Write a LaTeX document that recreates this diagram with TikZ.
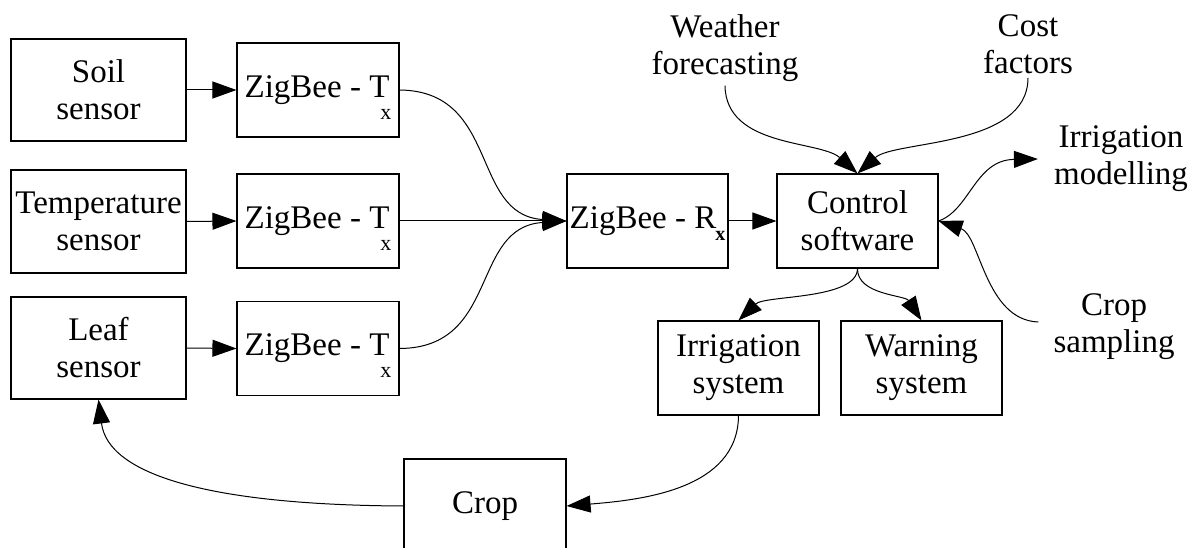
\documentclass[tikz,border=0pt]{standalone}
\usepackage{fontspec}
\setmainfont{Liberation Serif}
\usetikzlibrary{arrows.meta}
\newcommand\fs{\fontsize{33}{37}\selectfont}
\newcommand\txsub{\kern-9pt\smash{\raisebox{-22pt}{\fontsize{22}{22}\selectfont x}}}
\newcommand\rxsub{\kern-1pt\smash{\raisebox{-12pt}{\fontsize{20}{20}\selectfont\bfseries x}}}
\begin{document}
\begin{tikzpicture}[x=1pt,y=-1pt,
  box/.style={draw, line width=1.1pt, minimum width=162pt, minimum height=94pt, inner sep=0pt, align=center, font=\fs},
  sensorbox/.style={box, minimum width=175pt, minimum height=102pt},
  lbl/.style={align=center, inner sep=4pt, font=\fs},
  conn/.style={line width=1pt, -{Triangle[length=24pt,width=17pt]}}]
\useasboundingbox (0,0) rectangle (1203,548);

\node[sensorbox] (soil) at (98.5,90) {Soil\\sensor};
\node[sensorbox, minimum height=103pt] (temp) at (98.5,221.5) {Temperature\\sensor};
\node[sensorbox] (leaf) at (98.5,348) {Leaf\\sensor};

\node[box] (tx1) at (318,90) {ZigBee - T\txsub};
\node[box] (tx2) at (318,221) {ZigBee - T\txsub};
\node[box] (tx3) at (318,348.5) {ZigBee - T\txsub};

\node[box, minimum width=161pt] (rx) at (647.5,221) {ZigBee - R\rxsub};
\node[box, minimum width=161pt] (ctrl) at (857.5,221) {Control\\software};

\node[box, minimum width=161pt] (irr) at (738.5,368) {Irrigation\\system};
\node[box, minimum width=161pt] (warn) at (921.5,368) {Warning\\system};
\node[box] (crop) at (485,506) {Crop};

\node[lbl] (weather) at (725,48) {Weather\\forecasting};
\node[lbl] (cost) at (1028,44) {Cost\\factors};
\node[lbl] (irrmod) at (1121,159) {Irrigation\\modelling};
\node[lbl] (cropsamp) at (1114,327) {Crop\\sampling};

\draw[conn] (soil.east) -- (tx1.west);
\draw[conn] (temp.east) -- (tx2.west);
\draw[conn] (leaf.east) -- (tx3.west);

\draw[conn] (tx1.east) .. controls (500,91) and (470,215) .. (rx.west);
\draw[conn] (tx2.east) -- (rx.west);
\draw[conn] (tx3.east) .. controls (500,348) and (470,227) .. (rx.west);
\draw[conn] (rx.east) -- (ctrl.west);

\draw[conn] (weather.south) .. controls (726,148) and (820,140) .. (ctrl.north);
\draw[conn] (cost.south) .. controls (1028,148) and (895,140) .. (ctrl.north);

\draw[conn] (ctrl.east) .. controls (970,210) and (975,160) .. ([xshift=-12pt]irrmod.west);
\draw[conn] ([xshift=-11pt,yshift=5pt]cropsamp.west) .. controls (985,320) and (980,235) .. (ctrl.east);

\draw[conn] (ctrl.south) .. controls (857,300) and (765,295) .. (irr.north);
\draw[conn] (ctrl.south) .. controls (857,295) and (905,295) .. (warn.north);

\draw[conn] (irr.south) .. controls (738,490) and (640,500) .. (crop.east);
\draw[conn] (crop.west) .. controls (210,505) and (108,475) .. (leaf.south);
\end{tikzpicture}
\end{document}
